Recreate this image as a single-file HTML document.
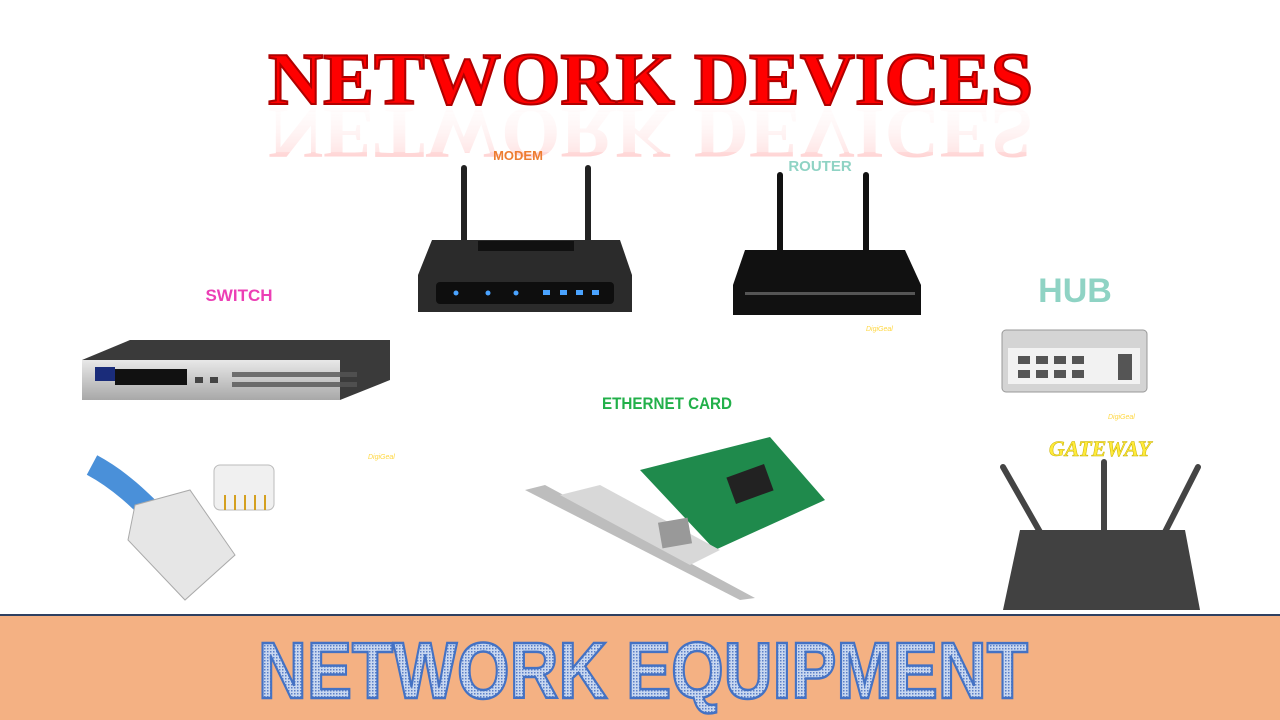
<!DOCTYPE html>
<html><head><style>
html,body{margin:0;padding:0;background:#fff;width:1280px;height:720px;overflow:hidden}
</style></head><body>
<svg width="1280" height="720" viewBox="0 0 1280 720" xmlns="http://www.w3.org/2000/svg">
<defs>
<linearGradient id="refl" x1="0" y1="0" x2="0" y2="1">
<stop offset="0" stop-color="#ff6060" stop-opacity="0.7"/><stop offset="1" stop-color="#fff" stop-opacity="0"/></linearGradient>
<linearGradient id="sw" x1="0" y1="0" x2="0" y2="1"><stop offset="0" stop-color="#e8e8e8"/><stop offset="1" stop-color="#a8a8a8"/></linearGradient>
<pattern id="dots" width="3" height="3" patternUnits="userSpaceOnUse"><rect width="3" height="3" fill="#c9d8f0"/><rect width="1.5" height="1.5" fill="#5b7fc7"/></pattern>
</defs>
<!-- title -->
<g font-family="Liberation Serif, serif" font-weight="bold" font-size="74">
<text x="268" y="104" textLength="765" lengthAdjust="spacingAndGlyphs" fill="#ff0000" stroke="#b00000" stroke-width="2">NETWORK DEVICES</text>
<text x="268" y="104" textLength="765" lengthAdjust="spacingAndGlyphs" fill="url(#refl)" transform="translate(0,212) scale(1,-1)" opacity="0.6">NETWORK DEVICES</text>
</g>
<rect x="250" y="112" width="800" height="40" fill="#fff" opacity="0.35"/>
<!-- labels -->
<g font-family="Liberation Sans, sans-serif" font-weight="bold" text-anchor="middle">
<text x="518" y="160" font-size="13" fill="#ed7d31">MODEM</text>
<text x="820" y="171" font-size="15" fill="#8fd3c4">ROUTER</text>
<text x="239" y="301" font-size="17" fill="#ec3fb5">SWITCH</text>
<text x="1075" y="302" font-size="34" fill="#8fd3c4">HUB</text>
<text x="667" y="409" font-size="17" fill="#22b04a" textLength="130" lengthAdjust="spacingAndGlyphs">ETHERNET CARD</text>
<text x="1100" y="456" font-size="22" fill="#ffeb3b" font-style="italic" font-family="Liberation Serif, serif" stroke="#c8b000" stroke-width="0.5">GATEWAY</text>
</g>
<!-- modem -->
<rect x="461" y="165" width="6" height="80" rx="3" fill="#222"/>
<rect x="585" y="165" width="6" height="80" rx="3" fill="#222"/>
<path d="M432 240 L620 240 L632 275 L632 312 L418 312 L418 275 Z" fill="#2b2b2b"/>
<rect x="478" y="241" width="96" height="10" fill="#111"/>
<rect x="436" y="282" width="178" height="22" rx="4" fill="#0e0e0e"/>
<g fill="#4aa3ff"><circle cx="456" cy="293" r="2.5"/><circle cx="488" cy="293" r="2.5"/><circle cx="516" cy="293" r="2.5"/><rect x="543" y="290" width="7" height="5"/><rect x="560" y="290" width="7" height="5"/><rect x="576" y="290" width="7" height="5"/><rect x="592" y="290" width="7" height="5"/></g>
<!-- router -->
<rect x="777" y="172" width="6" height="82" rx="3" fill="#111"/>
<rect x="863" y="172" width="6" height="82" rx="3" fill="#111"/>
<path d="M745 250 L905 250 L921 285 L921 315 L733 315 L733 285 Z" fill="#111"/>
<rect x="745" y="292" width="170" height="3" fill="#555"/>
<!-- switch -->
<path d="M82 360 L130 340 L390 340 L390 380 L340 400 L82 400 Z" fill="#3a3a3a"/>
<rect x="82" y="360" width="258" height="40" fill="url(#sw)"/>
<rect x="95" y="367" width="20" height="14" fill="#1a2c7a"/>
<rect x="115" y="369" width="72" height="16" fill="#111"/>
<g fill="#444"><rect x="195" y="377" width="8" height="6"/><rect x="210" y="377" width="8" height="6"/></g>
<g fill="#555">
<rect x="232" y="372" width="125" height="5" opacity="0.8"/><rect x="232" y="382" width="125" height="5" opacity="0.8"/></g>
<!-- hub -->
<rect x="1002" y="330" width="145" height="62" rx="4" fill="#d4d4d4" stroke="#999"/>
<rect x="1008" y="348" width="132" height="36" fill="#f2f2f2"/>
<g fill="#555"><rect x="1018" y="356" width="12" height="8"/><rect x="1036" y="356" width="12" height="8"/><rect x="1054" y="356" width="12" height="8"/><rect x="1072" y="356" width="12" height="8"/><rect x="1018" y="370" width="12" height="8"/><rect x="1036" y="370" width="12" height="8"/><rect x="1054" y="370" width="12" height="8"/><rect x="1072" y="370" width="12" height="8"/><rect x="1118" y="354" width="14" height="26"/></g>
<!-- ethernet card -->
<path d="M640 470 L770 437 L825 500 L715 550 Z" fill="#1f8a4c"/>
<path d="M525 490 L545 485 L755 598 L740 600 Z" fill="#bdbdbd"/>
<path d="M560 495 L600 485 L720 550 L690 565 Z" fill="#d8d8d8"/>
<rect x="660" y="520" width="30" height="26" fill="#999" transform="rotate(-10 675 533)"/>
<rect x="730" y="470" width="40" height="28" fill="#222" transform="rotate(-20 750 484)"/>
<!-- cable -->
<path d="M92 465 C120 480 140 500 160 520" stroke="#4a90d9" stroke-width="22" fill="none"/>
<path d="M135 505 L190 490 L235 555 L185 600 L128 540 Z" fill="#e6e6e6" stroke="#aaa"/>
<rect x="214" y="465" width="60" height="45" rx="6" fill="#f0f0f0" stroke="#bbb"/>
<g stroke="#d4a020" stroke-width="2"><line x1="225" y1="495" x2="225" y2="510"/><line x1="235" y1="495" x2="235" y2="510"/><line x1="245" y1="495" x2="245" y2="510"/><line x1="255" y1="495" x2="255" y2="510"/><line x1="265" y1="495" x2="265" y2="510"/></g>
<!-- gateway -->
<g stroke="#444" stroke-width="6" stroke-linecap="round"><line x1="1003" y1="467" x2="1040" y2="532"/><line x1="1104" y1="462" x2="1104" y2="532"/><line x1="1198" y1="467" x2="1165" y2="532"/></g>
<path d="M1020 530 L1185 530 L1200 610 L1003 610 Z" fill="#414141"/>
<!-- tiny watermark -->
<g font-family="Liberation Sans, sans-serif" font-size="7" font-style="italic" fill="#ffd740"><text x="866" y="331">DigiGeal</text><text x="368" y="459">DigiGeal</text><text x="1108" y="419">DigiGeal</text></g>
<!-- banner -->
<rect x="0" y="615" width="1280" height="105" fill="#f4b183"/>
<line x1="0" y1="615" x2="1280" y2="615" stroke="#2f4060" stroke-width="2"/>
<text x="258" y="698" font-family="Liberation Sans, sans-serif" font-weight="bold" font-size="80" textLength="770" lengthAdjust="spacingAndGlyphs" fill="url(#dots)" stroke="#4472c4" stroke-width="2.5">NETWORK EQUIPMENT</text>
</svg>
</body></html>
